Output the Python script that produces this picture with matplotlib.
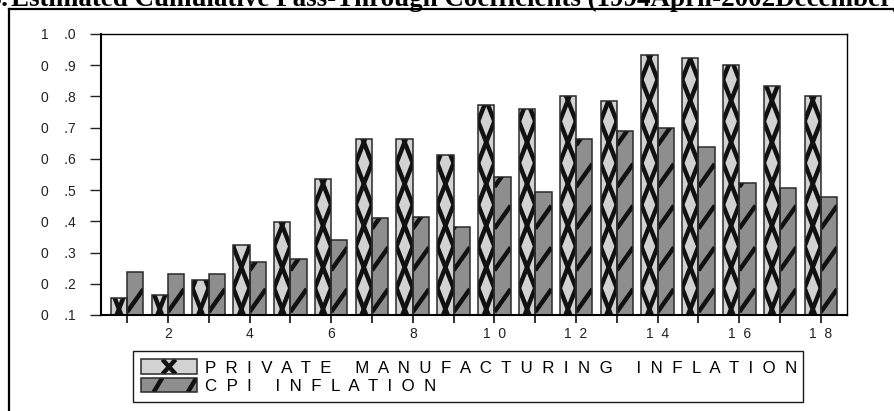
import matplotlib
matplotlib.use("Agg")
import matplotlib.pyplot as plt
from matplotlib.lines import Line2D
from matplotlib.patches import Rectangle
from matplotlib.legend_handler import HandlerBase
import numpy as np

# data
horizon = list(range(1, 19))
private_mfg = [0.153, 0.164, 0.211, 0.324, 0.397, 0.537, 0.665, 0.665, 0.614,
               0.772, 0.759, 0.803, 0.785, 0.933, 0.923, 0.900, 0.832, 0.800]
cpi = [0.239, 0.230, 0.230, 0.271, 0.279, 0.340, 0.412, 0.415, 0.381,
       0.543, 0.495, 0.663, 0.688, 0.700, 0.637, 0.522, 0.506, 0.477]
ytick_vals = [0.1, 0.2, 0.3, 0.4, 0.5, 0.6, 0.7, 0.8, 0.9, 1.0]
ytick_labels = ["0    .1", "0    .2", "0    .3", "0    .4", "0    .5",
                "0    .6", "0    .7", "0    .8", "0    .9", "1    .0"]
xtick_labels = ["" if h % 2 else "  ".join(str(h)) for h in horizon]
legend_labels = ["  ".join("PRIVATE") + "     " + "  ".join("MANUFACTURING")
                 + "     " + "  ".join("INFLATION"),
                 "  ".join("CPI") + "     " + "  ".join("INFLATION")]

W, H = 894, 411
DPI = 100
LIGHT, DARK, INK = '#d2d2d2', '#8e8e8e', '#111111'
plt.rcParams['font.family'] = ['Liberation Sans', 'DejaVu Sans']

fig = plt.figure(figsize=(W / DPI, H / DPI), dpi=DPI)
ax_box = [101 / W, 1 - 315 / H, (847 - 101) / W, (315 - 34) / H]
ax = fig.add_axes(ax_box)

x = np.array(horizon)
bw = 0.4
ylo, yhi = 0.1, 1.0
px_per_y = (315 - 34) / (yhi - ylo)
period = 41.7 / px_per_y      # hatch repeat, in data units
hatch_lw = 3.2

light = ax.bar(x - bw / 2, np.array(private_mfg) - ylo, bw, bottom=ylo, color=LIGHT,
               linewidth=0, zorder=2)
dark = ax.bar(x + bw / 2, np.array(cpi) - ylo, bw, bottom=ylo, color=DARK,
              linewidth=0, zorder=2)

# hand-drawn hatching: tall diamonds in the light bars, slanted strokes in the dark bars
for rect in light.patches:
    x0, w, top = rect.get_x(), rect.get_width(), rect.get_y() + rect.get_height()
    yc = ylo + 6 / px_per_y
    while yc - period < top:
        for ya, yb in ((yc - period / 2, yc + period / 2), (yc + period / 2, yc - period / 2)):
            ln = Line2D([x0, x0 + w], [ya, yb], color=INK, lw=hatch_lw, zorder=3,
                        solid_capstyle='butt')
            ax.add_line(ln)
            ln.set_clip_path(rect)
        yc += period
for rect in dark.patches:
    x0, w, top = rect.get_x(), rect.get_width(), rect.get_y() + rect.get_height()
    ys = ylo + 3 / px_per_y
    while ys < top:
        ln = Line2D([x0, x0 + w], [ys, ys + 23 / px_per_y], color=INK, lw=hatch_lw,
                    zorder=3, solid_capstyle='butt')
        ax.add_line(ln)
        ln.set_clip_path(rect)
        ys += period

# bar outlines on top of the hatching
ax.bar(x - bw / 2, np.array(private_mfg) - ylo, bw, bottom=ylo, fill=False,
       edgecolor='#2a2a2a', linewidth=1.1, zorder=4)
ax.bar(x + bw / 2, np.array(cpi) - ylo, bw, bottom=ylo, fill=False,
       edgecolor='#2a2a2a', linewidth=1.1, zorder=4)

ax.set_xlim(0.36, 18.64)
ax.set_ylim(ylo, yhi)
ax.set_yticks(ytick_vals)
ax.set_yticklabels(ytick_labels)
ax.set_xticks(horizon)
ax.set_xticklabels(xtick_labels)
ax.tick_params(axis='y', direction='out', length=8, width=1.0, pad=10,
               labelsize=10, colors='#222222')
ax.tick_params(axis='x', direction='out', length=6, width=1.3, pad=3,
               labelsize=10, colors='#222222')
for s in ax.spines.values():
    s.set_linewidth(1.0)
    s.set_zorder(5)
ax.spines['left'].set_linewidth(1.5)
ax.spines['bottom'].set_linewidth(1.5)


class HatchHandler(HandlerBase):
    def __init__(self, kind):
        super().__init__()
        self.kind = kind

    def create_artists(self, legend, orig_handle, xdescent, ydescent, width, height,
                       fontsize, trans):
        x0, y0 = -xdescent, -ydescent
        face = LIGHT if self.kind == 'x' else DARK
        bg = Rectangle((x0, y0), width, height, facecolor=face, edgecolor='none',
                       transform=trans)
        arts = [bg]
        if self.kind == 'x':
            cx, d = x0 + width * 0.5, height * 0.45
            segs = [([cx - d, cx + d], [y0, y0 + height]), ([cx - d, cx + d], [y0 + height, y0])]
        else:
            d = height * 0.3
            segs = [([x0 + width * f - d, x0 + width * f + d], [y0, y0 + height])
                    for f in (0.3, 0.92)]
        for xs, ys in segs:
            ln = Line2D(xs, ys, color=INK, lw=3.2, transform=trans, solid_capstyle='butt')
            ln.set_clip_path(bg)
            arts.append(ln)
        arts.append(Rectangle((x0, y0), width, height, fill=False, edgecolor='#2a2a2a',
                              lw=1.1, transform=trans))
        return arts


h_light = Rectangle((0, 0), 1, 1)
h_dark = Rectangle((0, 0), 1, 1)
leg_h = 0.12
fig.legend([h_light, h_dark], legend_labels, loc='upper left',
           bbox_to_anchor=(133 / W, 1 - 351 / H - leg_h, (803 - 133) / W, leg_h),
           mode='expand', ncol=1, fontsize=12.2, frameon=True, fancybox=False,
           edgecolor='#1a1a1a', framealpha=1, handlelength=3.25, handleheight=0.95,
           handletextpad=0.5, labelspacing=0.12, borderpad=0.5, borderaxespad=0,
           handler_map={h_light: HatchHandler('x'), h_dark: HatchHandler('/')})
fig.legends[0].get_frame().set_linewidth(1.0)

# outer frame (only left and top edges fall inside the picture)
fig.add_artist(Line2D([9 / W, 9 / W], [0, 1 - 9.5 / H], color='black', lw=1.6,
                      transform=fig.transFigure))
fig.add_artist(Line2D([9 / W, 1], [1 - 9.5 / H, 1 - 9.5 / H], color='black', lw=1.6,
                      transform=fig.transFigure))

# title, cut off by the top and side edges
fig.text(8 / W, 1 - 6 / H, "Figure 4.", ha='right', va='baseline',
         family='Liberation Serif', weight='bold', fontsize=19.45)
fig.text(11 / W, 1 - 6 / H,
         "Estimated Cumulative Pass-Through Coefficients (1994April-2002December)",
         ha='left', va='baseline', family='Liberation Serif', weight='bold', fontsize=19.45)

fig.savefig("out.png", dpi=DPI)
